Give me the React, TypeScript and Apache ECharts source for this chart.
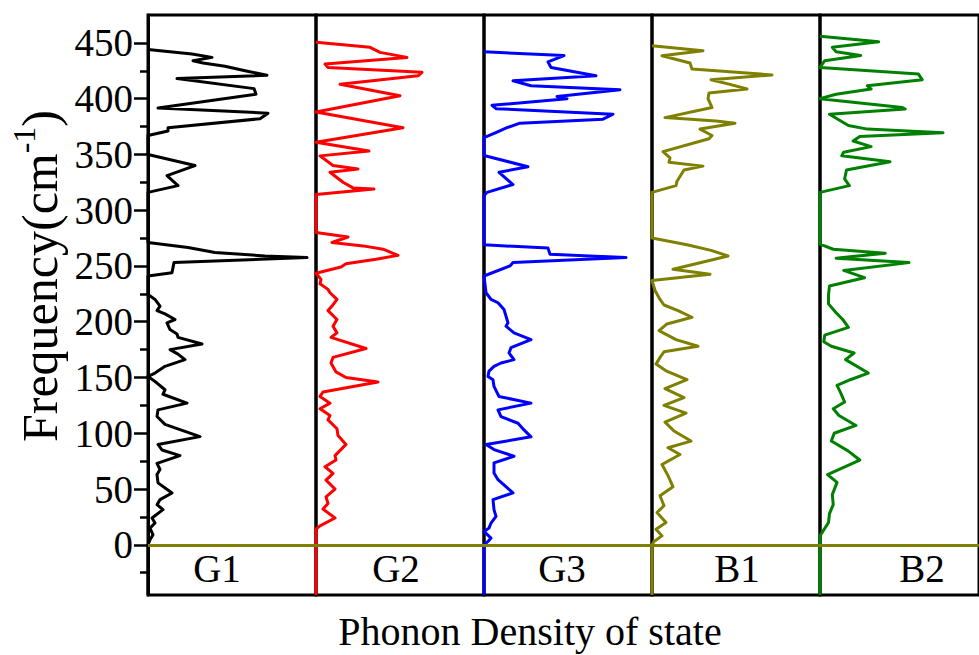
import React, { useEffect, useRef } from "react";
import * as echarts from "echarts";

// ---- data: phonon DOS per panel, points are [density (arb. units), frequency (cm^-1)] ----
const panelNames = ["G1", "G2", "G3", "B1", "B2"];
const panelColors = ["#000000", "#ff0000", "#0000ff", "#808000", "#008000"];
const majorTicks = [0, 50, 100, 150, 200, 250, 300, 350, 400, 450];
const minorTicks = [-25, 25, 75, 125, 175, 225, 275, 325, 375, 425];
const FREQ_MIN = -45;
const FREQ_MAX = 475;
const DOS_MAX = 16.8;

const dosG1 = [
  [0, 444], [4.4, 440], [6.4, 437], [4.5, 434], [5.5, 432], [7.7, 429], [9.7, 425], [11.9, 421],
  [2.9, 418], [10.6, 409], [10.8, 404], [1.0, 391.6], [12.0, 387], [11.2, 382], [2.0, 374], [2.0, 371],
  [0, 367], [0, 350], [4.7, 340], [1.9, 331], [3.0, 322], [0, 316], [0, 271], [4.0, 266.5], [6.7, 262],
  [11.7, 259], [15.9, 257.5], [2.6, 253], [2.4, 244], [0, 241], [0, 224.5], [0.7, 220], [1.2, 214],
  [0.9, 210], [1.7, 207], [2.7, 202], [1.9, 199], [2.2, 193], [2.9, 189], [3.0, 186], [5.4, 180],
  [2.2, 175], [3.0, 171], [3.7, 166], [1.7, 160], [0.7, 154], [0, 151], [0.9, 145], [1.7, 139],
  [1.5, 135], [3.9, 127], [1.0, 121], [0.9, 115], [1.7, 108], [5.2, 97], [1.0, 90], [1.4, 85],
  [3.2, 80], [0.9, 73], [1.2, 67.5], [0.9, 63], [1.0, 55.5], [2.4, 46.5], [1.2, 40.5], [0.9, 36],
  [1.5, 31.5], [0.4, 24], [0.7, 19.5], [0.2, 15], [0.5, 9], [0.2, 4.5], [0, 0], [0, -45],
];

const dosG2 = [
  [0, 450.5], [5.4, 446], [6.4, 441.5], [9.1, 437], [0.9, 431], [1.2, 428], [10.6, 423.6], [10.2, 420.5],
  [2.4, 413], [8.4, 402.6], [0, 388], [8.7, 374], [0, 361], [5.3, 353], [0.4, 348.7], [1.7, 340],
  [4.2, 337], [1.4, 334], [2.7, 325], [3.7, 320], [5.8, 319], [0, 314], [0, 280], [3.2, 276], [1.6, 271],
  [4.7, 268], [6.7, 265], [8.2, 259.5], [6.0, 256], [3.0, 252], [2.5, 249], [0, 243.5], [0.5, 238],
  [0.4, 234], [1.2, 229], [1.4, 226], [2.1, 220], [1.6, 214], [1.2, 210], [2.1, 202], [1.7, 196],
  [2.1, 190], [1.5, 186], [5.0, 176], [1.7, 168], [1.5, 163], [2.0, 155], [3.0, 150], [6.2, 146],
  [0.7, 137], [0.4, 133], [1.4, 127], [0.4, 122], [1.4, 116], [1.2, 112], [2.1, 104], [2.2, 98],
  [3.0, 90], [1.9, 80], [2.0, 76], [0.9, 70], [1.7, 64], [1.0, 58], [1.9, 50], [1.0, 43], [1.2, 37],
  [0.7, 32], [1.9, 24], [0.4, 17], [0, 14], [0, 0], [0, -45],
];

const dosG3 = [
  [0, 442], [8.0, 438.6], [6.4, 433], [6.7, 428], [11.2, 420.6], [2.9, 416], [4.7, 411.6], [13.6, 408],
  [7.3, 402], [8.3, 400], [0.8, 394], [1.2, 391], [12.9, 386], [11.9, 381.6], [3.6, 378], [2.3, 374],
  [1.3, 370], [0, 365], [0, 349], [4.4, 339], [1.5, 334], [2.9, 323], [0.3, 316], [0, 313], [0, 269],
  [6.4, 266], [6.6, 260.5], [14.2, 257.5], [2.9, 253], [2.6, 250], [0, 241], [0.2, 226], [0.7, 220],
  [1.4, 217], [2.0, 211], [2.4, 199], [2.2, 196], [3.0, 190], [4.7, 184], [2.7, 176.7], [2.5, 172],
  [3.0, 166], [1.7, 163], [1.0, 160], [0.5, 155.7], [0.4, 151], [0.9, 148], [1.0, 142], [1.5, 133],
  [4.7, 127], [1.4, 121], [1.7, 115], [3.4, 109], [4.0, 103], [4.7, 96.8], [0.2, 89.9], [1.0, 85.4],
  [3.0, 79.4], [1.0, 73.4], [1.0, 64.4], [1.4, 58.4], [2.9, 46.5], [0.9, 40.5], [1.0, 31.5], [1.2, 25.5],
  [0.7, 19.5], [0.5, 15], [0, 12], [0.7, 6], [0.4, 3], [0, 0], [0, -45],
];

const dosB1 = [
  [0, 447.5], [5.1, 443], [1.0, 438.5], [3.8, 432], [4.0, 426.6], [12.0, 421.3], [5.9, 417], [7.7, 413],
  [9.5, 408.6], [5.7, 405], [5.6, 400], [6.0, 392], [1.3, 383], [6.4, 380], [8.3, 378], [4.8, 372.7],
  [6.0, 367], [5.7, 364], [1.1, 352.5], [1.8, 347], [1.7, 343], [5.1, 339.5], [3.2, 336], [2.5, 326],
  [2.4, 322], [0, 316], [0, 275], [3.5, 269], [5.9, 264], [7.6, 259], [4.4, 252], [2.1, 247],
  [5.8, 242.5], [0, 237], [0.3, 228], [0.8, 220], [1.2, 215], [2.6, 210], [4.0, 204], [1.5, 198],
  [0.7, 192], [2.4, 184], [4.6, 178], [1.2, 173], [0.8, 168], [0.4, 162], [1.4, 156], [3.5, 148],
  [1.3, 140], [3.2, 132], [1.2, 125], [3.4, 118], [1.3, 110], [2.2, 102], [3.9, 93], [1.6, 87],
  [2.8, 81], [1.0, 72], [1.6, 62], [2.1, 52], [0.8, 44], [1.2, 35], [0.5, 29], [1.4, 20], [0.4, 14],
  [1.0, 8], [0.2, 3], [0, 0], [0, -45],
];

const dosB2 = [
  [0, 456], [6.2, 451], [1.3, 446], [1.7, 442], [4.3, 438.6], [0.5, 434], [0, 428], [10.4, 422],
  [10.8, 417], [5.0, 411.6], [5.4, 408.6], [1.7, 404], [0, 400], [8.7, 392], [9.0, 390.7], [1.0, 386],
  [3.0, 376], [5.0, 372.7], [13.0, 369.4], [4.2, 366], [3.5, 362], [5.4, 357], [2.5, 352], [2.3, 348.8],
  [7.4, 343.4], [2.8, 336], [2.6, 328], [3.1, 322], [0, 316], [0, 269.5], [1.4, 265], [6.9, 261.5],
  [1.7, 257], [9.4, 253], [2.5, 246], [4.7, 239.5], [1.0, 232], [0.9, 224], [0.9, 216], [1.7, 208],
  [2.4, 202], [3.0, 195], [0.5, 188], [0.4, 182], [1.2, 178], [3.6, 172], [2.7, 166], [5.1, 154],
  [3.2, 148], [1.8, 143], [2.2, 136], [2.6, 128], [1.4, 122], [2.0, 116], [3.8, 107], [1.5, 100],
  [1.2, 93], [3.0, 84], [4.2, 76], [0.8, 63], [1.8, 56], [1.3, 45], [1.4, 36], [1.0, 28], [0.9, 20],
  [0.3, 12], [0, 8], [0, 0], [0, -45],
];

const dosData = [dosG1, dosG2, dosG3, dosB1, dosB2];
const xTitle = "Phonon Density of state";

// ---- layout ----
const FONT = '"Times New Roman", "Liberation Serif", "DejaVu Serif", serif';
const PANEL_LEFT = 148;
const PANEL_W = 168;
const TOP = 15;
const HEIGHT = 580;
const panelLabelX = [217, 396, 562, 737, 922];

export default function App() {
  const ref = useRef<HTMLDivElement>(null);
  useEffect(() => {
    if (!ref.current) return;
    const chart = echarts.init(ref.current, undefined, { renderer: "svg" });
    const option: any = {
      animation: false,
      backgroundColor: "#ffffff",
      grid: panelNames.map((_, i) => ({
        left: PANEL_LEFT + i * PANEL_W,
        top: TOP,
        width: PANEL_W,
        height: HEIGHT,
        show: true,
        borderColor: "#000",
        borderWidth: 3,
        backgroundColor: "transparent",
      })),
      xAxis: panelNames.map((_, i) => ({
        type: "value",
        gridIndex: i,
        min: 0,
        max: DOS_MAX,
        show: false,
      })),
      yAxis: [
        ...panelNames.map((_, i) =>
          i === 0
            ? {
                type: "value",
                gridIndex: 0,
                min: FREQ_MIN,
                max: FREQ_MAX,
                position: "left",
                axisLine: { show: true, onZero: false, lineStyle: { color: "#000", width: 3 } },
                axisTick: {
                  show: true,
                  inside: false,
                  length: 14,
                  customValues: majorTicks,
                  lineStyle: { color: "#000", width: 2.5 },
                },
                axisLabel: {
                  show: true,
                  customValues: majorTicks,
                  margin: 15,
                  fontSize: 39,
                  fontFamily: FONT,
                  color: "#000",
                },
                splitLine: { show: false },
              }
            : {
                type: "value",
                gridIndex: i,
                min: FREQ_MIN,
                max: FREQ_MAX,
                show: false,
              }
        ),
        {
          type: "value",
          gridIndex: 0,
          min: FREQ_MIN,
          max: FREQ_MAX,
          position: "left",
          axisLine: { show: false },
          axisTick: {
            show: true,
            inside: false,
            length: 8,
            customValues: minorTicks,
            lineStyle: { color: "#000", width: 2.5 },
          },
          axisLabel: { show: false },
          splitLine: { show: false },
        },
      ],
      series: panelNames.map((name, i) => ({
        type: "line",
        name,
        xAxisIndex: i,
        yAxisIndex: i,
        data: dosData[i],
        symbol: "none",
        showSymbol: false,
        clip: true,
        z: 3,
        lineStyle: { color: panelColors[i], width: 3, join: "round" },
        itemStyle: { color: panelColors[i] },
        markLine: {
          silent: true,
          symbol: ["none", "none"],
          label: { show: false },
          lineStyle: { color: "#808000", width: 3, type: "solid" },
          data: [{ yAxis: 0 }],
        },
      })),
      graphic: [
        ...panelNames.map((name, i) => ({
          type: "text",
          x: panelLabelX[i],
          y: 568,
          style: {
            text: name,
            fontSize: 39,
            fontFamily: FONT,
            fill: "#000",
            align: "center",
            verticalAlign: "middle",
          },
        })),
        {
          type: "text",
          x: 530,
          y: 631,
          style: {
            text: xTitle,
            fontSize: 40,
            fontFamily: FONT,
            fill: "#000",
            align: "center",
            verticalAlign: "middle",
          },
        },
        {
          type: "text",
          x: 40,
          y: 276,
          rotation: Math.PI / 2,
          style: {
            text: "{a|Frequency(cm}{s|-1}{a|)}",
            align: "center",
            verticalAlign: "middle",
            fill: "#000",
            rich: {
              a: { fontSize: 50, fontFamily: FONT, lineHeight: 64, fill: "#000" },
              s: { fontSize: 32, fontFamily: FONT, lineHeight: 32, verticalAlign: "top", fill: "#000" },
            },
          },
        },
      ],
    };
    chart.setOption(option);
    return () => chart.dispose();
  }, []);
  return (
    <div
      ref={ref}
      style={{ position: "fixed", left: 0, top: 0, width: 979, height: 655, background: "#fff" }}
    />
  );
}
